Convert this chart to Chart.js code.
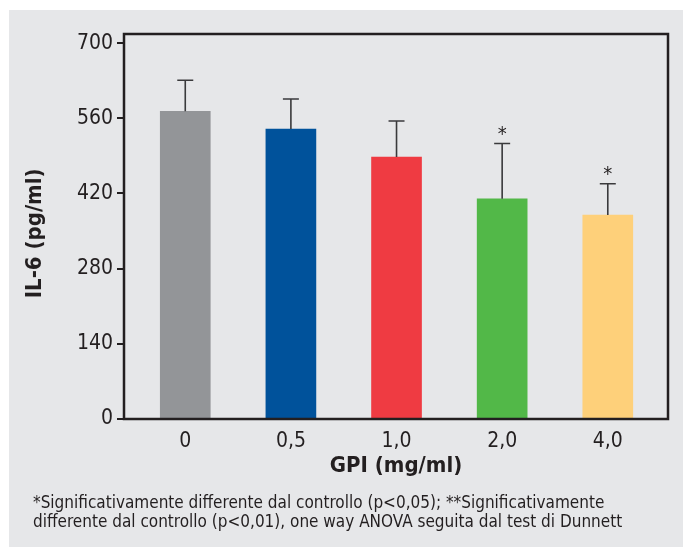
<!DOCTYPE html>
<html>
<head>
<meta charset="utf-8">
<script src="https://cdn.jsdelivr.net/npm/chart.js@4.4.1/dist/chart.umd.min.js"></script>
<style>
  html, body { margin: 0; padding: 0; background: #ffffff; }
  #wrap { width: 683px; height: 547px; }
</style>
</head>
<body>
<div id="wrap"><canvas id="il6Chart" width="683" height="547"></canvas></div>
<script>
// data
const categories = ['0', '0,5', '1,0', '2,0', '4,0'];
const il6Means = [573, 540, 488, 410, 380];
const il6ErrTop = [631, 596, 555, 513, 438];
const significant = ['', '', '', '*', '*'];
const yTicks = [0, 140, 280, 420, 560, 700];
const footnote = [
    '*Significativamente differente dal controllo (p<0,05); **Significativamente',
    'differente dal controllo (p<0,01), one way ANOVA seguita dal test di Dunnett'
];

const barColors = ['#939598', '#00529b', '#ef3b42', '#52b848', '#fed07a'];
const ink = '#231f20';
const FONT = '"Liberation Sans Narrow", "DejaVu Sans Condensed", "Liberation Sans", sans-serif';

// grey panel, box, error bars, asterisks, footnote
const decor = {
    id: 'decor',
    beforeDraw(chart) {
        const ctx = chart.ctx;
        ctx.save();
        ctx.fillStyle = '#ffffff';
        ctx.fillRect(0, 0, chart.width, chart.height);
        ctx.fillStyle = '#e6e7e9';
        ctx.fillRect(9, 10, chart.width - 9, chart.height - 10);
        ctx.restore();
    },
    afterDatasetsDraw(chart) {
        const ctx = chart.ctx;
        const x = chart.scales.x, y = chart.scales.y;
        const a = chart.chartArea;
        ctx.save();
        // error bars (upper only)
        ctx.strokeStyle = '#3a3a3c';
        ctx.lineWidth = 1.6;
        il6ErrTop.forEach((e, i) => {
            const px = x.getPixelForValue(i);
            const y0 = y.getPixelForValue(il6Means[i]);
            const y1 = y.getPixelForValue(e);
            ctx.beginPath();
            ctx.moveTo(px, y0);
            ctx.lineTo(px, y1);
            ctx.moveTo(px - 8, y1);
            ctx.lineTo(px + 8, y1);
            ctx.stroke();
            if (significant[i]) {
                ctx.fillStyle = ink;
                ctx.font = '20px ' + FONT;
                ctx.textAlign = 'center';
                ctx.textBaseline = 'middle';
                ctx.fillText(significant[i], px, y1 - 9);
            }
        });
        // frame
        ctx.strokeStyle = ink;
        ctx.lineWidth = 2.5;
        ctx.strokeRect(a.left, a.top, a.right - a.left, a.bottom - a.top);
        ctx.restore();
    },
    afterDraw(chart) {
        const ctx = chart.ctx;
        ctx.save();
        ctx.fillStyle = ink;
        ctx.font = '17px ' + FONT;
        ctx.textAlign = 'left';
        ctx.textBaseline = 'middle';
        footnote.forEach((line, i) => ctx.fillText(line, 33, 504 + i * 19));
        ctx.restore();
    }
};

const ctx = document.getElementById('il6Chart').getContext('2d');
new Chart(ctx, {
    type: 'bar',
    data: {
        datasets: [{
            data: il6Means.map((v, i) => ({ x: i, y: v })),
            backgroundColor: barColors,
            borderWidth: 0,
            barThickness: 50
        }]
    },
    options: {
        responsive: false,
        animation: false,
        events: [],
        layout: { padding: { left: 0, right: 15, top: 34, bottom: 0 } },
        plugins: {
            legend: { display: false },
            tooltip: { enabled: false }
        },
        scales: {
            x: {
                type: 'linear',
                offset: false,
                min: -0.58,
                max: 4.57,
                grid: { display: false, drawTicks: false },
                border: { display: false },
                ticks: {
                    stepSize: 1,
                    includeBounds: false,
                    padding: 10,
                    color: ink,
                    font: { family: FONT, size: 21 },
                    callback: (v) => Number.isInteger(v) ? categories[v] : ''
                },
                title: {
                    display: true,
                    text: 'GPI (mg/ml)',
                    color: ink,
                    font: { family: FONT, size: 22, weight: 'bold' },
                    padding: { top: 0, bottom: 68 }
                },
                afterFit: (s) => { s.height = 128; }
            },
            y: {
                min: 0,
                max: 717,
                grid: { display: true, drawOnChartArea: false, drawTicks: true, tickLength: 7, color: ink, lineWidth: 2 },
                border: { display: false },
                afterBuildTicks: (s) => { s.ticks = yTicks.map(v => ({ value: v })); },
                ticks: {
                    padding: 4,
                    color: ink,
                    font: { family: FONT, size: 21 }
                },
                title: {
                    display: true,
                    text: 'IL-6 (pg/ml)  ',
                    color: ink,
                    font: { family: FONT, size: 22, weight: 'bold' },
                    padding: { top: 22, bottom: 0 }
                },
                afterFit: (s) => { s.width = 124; }
            }
        }
    },
    plugins: [decor]
});
</script>
</body>
</html>
